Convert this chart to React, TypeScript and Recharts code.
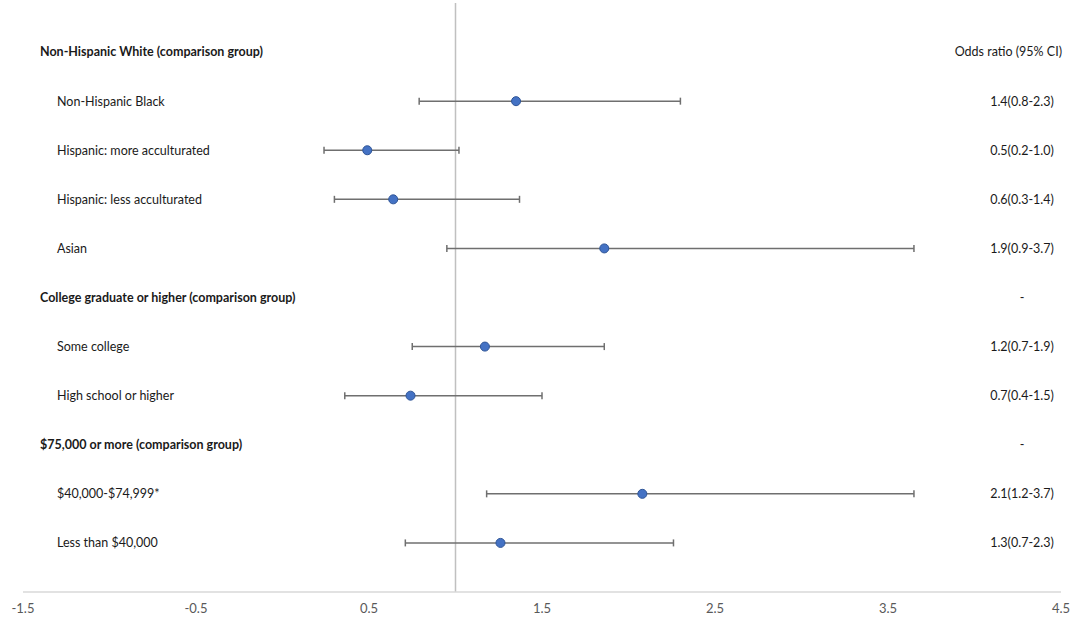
import React from "react";
import {
  ScatterChart,
  Scatter,
  XAxis,
  YAxis,
  ErrorBar,
  ReferenceLine,
} from "recharts";

// rows top to bottom; headers have no estimate
const rowLabels = [
  "Non-Hispanic White (comparison group)",
  "Non-Hispanic Black",
  "Hispanic: more acculturated",
  "Hispanic: less acculturated",
  "Asian",
  "College graduate or higher (comparison group)",
  "Some college",
  "High school or higher",
  "$75,000 or more (comparison group)",
  "$40,000-$74,999*",
  "Less than $40,000",
];
const isHeader = [true, false, false, false, false, true, false, false, true, false, false];
const ciLabels = [
  "Odds ratio (95% CI)",
  "1.4(0.8-2.3)",
  "0.5(0.2-1.0)",
  "0.6(0.3-1.4)",
  "1.9(0.9-3.7)",
  "-",
  "1.2(0.7-1.9)",
  "0.7(0.4-1.5)",
  "-",
  "2.1(1.2-3.7)",
  "1.3(0.7-2.3)",
];

// plotted estimates (null = comparison group)
const oddsRatio = [null, 1.35, 0.49, 0.64, 1.86, null, 1.17, 0.74, null, 2.08, 1.26];
const ciLow = [null, 0.79, 0.24, 0.3, 0.95, null, 0.75, 0.36, null, 1.18, 0.71];
const ciHigh = [null, 2.3, 1.02, 1.37, 3.65, null, 1.86, 1.5, null, 3.65, 2.26];

const xTicks = [-1.5, -0.5, 0.5, 1.5, 2.5, 3.5, 4.5];
const rowTicks = rowLabels.map((_, i) => i);

const points = oddsRatio
  .map((or, i) =>
    or == null
      ? null
      : { row: i, or, err: [or - (ciLow[i] as number), (ciHigh[i] as number) - or] }
  )
  .filter(Boolean) as { row: number; or: number; err: number[] }[];

const FONT = "Lato, 'Open Sans', sans-serif";

const renderRowTick = (props: any) => {
  const { y, payload } = props;
  const i = Math.round(payload.value);
  const header = isHeader[i];
  return (
    <g key={`row-${i}`}>
      <text
        x={header ? 40 : 57}
        y={y}
        dy="0.35em"
        fontSize={12.5}
        fontWeight={header ? 700 : 400}
        fill="#1a1a1a"
        fontFamily={FONT}
        textAnchor="start"
      >
        {rowLabels[i]}
      </text>
      <text
        x={i === 0 ? 1062 : 1022}
        y={y}
        dy="0.35em"
        fontSize={12.5}
        fill="#1a1a1a"
        fontFamily={FONT}
        textAnchor={i === 0 ? "end" : "middle"}
      >
        {ciLabels[i]}
      </text>
    </g>
  );
};

export default function App() {
  return (
    <div style={{ position: "absolute", left: 0, top: 0, background: "#fff" }}>
      <ScatterChart
        width={1084}
        height={628}
        margin={{ top: 3, right: 23, bottom: 6, left: 22 }}
      >
        <XAxis
          type="number"
          dataKey="or"
          domain={[-1.5, 4.5]}
          ticks={xTicks}
          interval={0}
          tickLine={false}
          tickMargin={6}
          height={30}
          axisLine={{ stroke: "#d9d9d9", strokeWidth: 1.5 }}
          tick={{ fill: "#595959", fontSize: 13, fontFamily: FONT }}
          tickFormatter={(v: number) => v.toFixed(1)}
        />
        <YAxis
          type="number"
          dataKey="row"
          domain={[-1, 11]}
          reversed
          ticks={rowTicks}
          interval={0}
          width={1}
          axisLine={false}
          tickLine={false}
          tick={renderRowTick}
        />
        <ReferenceLine x={1} stroke="#c0c0c0" strokeWidth={1.5} />
        <Scatter
          data={points}
          fill="#4472c4"
          stroke="#2f5597"
          strokeWidth={1}
          isAnimationActive={false}
        >
          <ErrorBar
            dataKey="err"
            direction="x"
            width={3.5}
            stroke="#6f6f6f"
            strokeWidth={1.5}
          />
        </Scatter>
      </ScatterChart>
    </div>
  );
}
